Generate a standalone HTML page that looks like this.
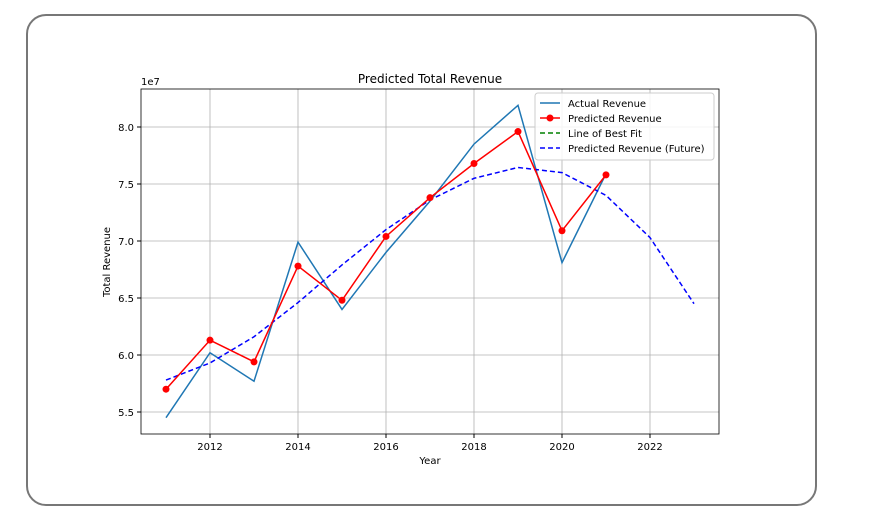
<!DOCTYPE html>
<html><head><meta charset="utf-8"><style>
body{margin:0;background:#fff;font-family:"DejaVu Sans","Liberation Sans",sans-serif;}
#frame{position:absolute;left:26px;top:14px;width:787px;height:488px;border:2px solid #777;border-radius:20px;}
</style></head><body>
<div id="frame"></div>
<svg id="c" width="888" height="529" style="position:absolute;left:0;top:0;font-family:'DejaVu Sans','Liberation Sans',sans-serif"></svg>
<script>
const years=[2011,2012,2013,2014,2015,2016,2017,2018,2019,2020,2021];
const actual=[5.45,6.02,5.77,6.99,6.40,6.90,7.35,7.85,8.19,6.81,7.59];
const predicted=[5.70,6.13,5.94,6.78,6.48,7.04,7.38,7.68,7.96,7.09,7.58];
const futureYears=[2011,2012,2013,2014,2015,2016,2017,2018,2019,2020,2021,2022,2023];
const future=[5.78,5.93,6.16,6.46,6.79,7.10,7.36,7.55,7.645,7.60,7.40,7.03,6.45];
const xTicks=[2012,2014,2016,2018,2020,2022];
const yTicks=[5.5,6.0,6.5,7.0,7.5,8.0];
const NS='http://www.w3.org/2000/svg';
const svg=document.getElementById('c');
const X=v=>210+(v-2012)*44;
const Y=v=>412-(v-5.5)*114;
function mk(t,a,p){const e=document.createElementNS(NS,t);for(const k in a)e.setAttribute(k,a[k]);(p||svg).appendChild(e);return e;}
const L=141,R=719,T=89,B=434;
xTicks.forEach(t=>{const g=mk('line',{x1:X(t),x2:X(t),y1:T,y2:B,stroke:'#b0b0b0','stroke-width':0.8});


mk('line',{x1:X(t),x2:X(t),y1:B,y2:B+4,stroke:'#000'});
const tx=mk('text',{x:X(t),y:B+16,'text-anchor':'middle','font-size':10});tx.textContent=t;

});
yTicks.forEach(t=>{const g=mk('line',{x1:L,x2:R,y1:Y(t),y2:Y(t),stroke:'#b0b0b0','stroke-width':0.8});


mk('line',{x1:L-4,x2:L,y1:Y(t),y2:Y(t),stroke:'#000'});
const tx=mk('text',{x:L-7,y:Y(t)+4,'text-anchor':'end','font-size':10});tx.textContent=t.toFixed(1);

});
const ax=mk('rect',{x:L,y:T,width:R-L,height:B-T,fill:'none',stroke:'#000','stroke-width':0.8});


function pts(xs,ys){return xs.map((x,i)=>X(x)+','+Y(ys[i])).join(' ');}
const a=mk('polyline',{points:pts(years,actual),fill:'none',stroke:'#1f77b4','stroke-width':1.5});


const f=mk('polyline',{points:pts(futureYears,future),fill:'none',stroke:'#0000ff','stroke-width':1.5,'stroke-dasharray':'5,3'});


const p=mk('polyline',{points:pts(years,predicted),fill:'none',stroke:'#ff0000','stroke-width':1.5});


years.forEach((y,i)=>{const c=mk('circle',{cx:X(y),cy:Y(predicted[i]),r:3.5,fill:'#ff0000'});

});
function txt(s,a,name){const t=mk('text',a);t.textContent=s;return t;}
txt('Predicted Total Revenue',{x:430,y:83,'text-anchor':'middle','font-size':12},'chart-title');
txt('Year',{x:430,y:464,'text-anchor':'middle','font-size':10},'x-axis-title');
txt('Total Revenue',{x:110,y:262,'text-anchor':'middle','font-size':10,transform:'rotate(-90 110 262)'},'y-axis-title');
txt('1e7',{x:141,y:85,'font-size':10},'y-scale-label');
const lg=mk('rect',{x:535,y:93,width:179,height:67,rx:3,fill:'#fff','fill-opacity':0.85,stroke:'#ccc'});


const items=[['Actual Revenue','#1f77b4',0,0],['Predicted Revenue','#ff0000',0,1],['Line of Best Fit','#008000',1,0],['Predicted Revenue (Future)','#0000ff',1,0]];
items.forEach((it,i)=>{const y=103+i*15;
mk('line',{x1:540,x2:560,y1:y,y2:y,stroke:it[1],'stroke-width':1.5,'stroke-dasharray':it[2]?'5,3':'none'});
if(it[3])mk('circle',{cx:550,cy:y,r:3.5,fill:it[1]});
txt(it[0],{x:568,y:y+4,'font-size':10},'legend-entry');});
</script>
</body></html>
